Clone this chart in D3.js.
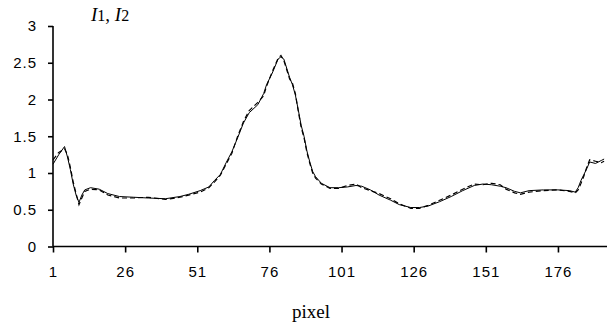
<!DOCTYPE html>
<html><head><meta charset="utf-8">
<script src="https://cdn.jsdelivr.net/npm/d3@7/dist/d3.min.js"></script>
<style>
html,body{margin:0;padding:0;background:#fff;}
svg{display:block;}
.tick text{font-family:"Liberation Sans",Arial,sans-serif;font-size:15px;letter-spacing:1px;fill:#000;}
</style></head>
<body><svg id="c" width="612" height="326"></svg>
<script>
const pixels = [1,3,5,6,7,8,9,10,11,12,14,17,20,24,29,34,40,45,48,52,55,57,59,61,63,65,67,69,72,74,75,77,79,80,81,83,84,85,86,87,88,89,90,91,92,94,97,100,103,106,108,111,114,118,121,125,128,131,135,139,143,147,150,153,156,158,161,163,166,171,176,180,182,183,184,185,186,187,189,191,192];
const I1 = [1.12,1.25,1.36,1.22,1.05,0.85,0.70,0.60,0.70,0.77,0.80,0.78,0.72,0.68,0.67,0.66,0.65,0.68,0.71,0.76,0.81,0.90,0.98,1.14,1.29,1.48,1.68,1.82,1.93,2.08,2.20,2.36,2.55,2.58,2.55,2.30,2.20,2.06,1.86,1.65,1.50,1.30,1.15,1.02,0.95,0.86,0.80,0.80,0.81,0.83,0.82,0.77,0.70,0.63,0.57,0.53,0.53,0.55,0.61,0.68,0.76,0.83,0.85,0.84,0.82,0.80,0.75,0.73,0.76,0.77,0.77,0.76,0.74,0.80,0.90,0.98,1.06,1.15,1.13,1.17,1.19];
const I2 = [1.18,1.28,1.33,1.25,1.08,0.88,0.72,0.57,0.66,0.75,0.78,0.77,0.70,0.66,0.66,0.67,0.64,0.67,0.70,0.74,0.80,0.88,0.97,1.12,1.27,1.50,1.70,1.85,1.96,2.05,2.18,2.38,2.56,2.60,2.53,2.28,2.22,2.08,1.84,1.62,1.48,1.28,1.13,1.00,0.93,0.85,0.79,0.79,0.83,0.85,0.80,0.76,0.72,0.65,0.58,0.52,0.52,0.56,0.63,0.70,0.78,0.85,0.84,0.86,0.84,0.78,0.73,0.71,0.74,0.76,0.77,0.75,0.73,0.77,0.86,0.96,1.08,1.18,1.16,1.14,1.16];
const xTicks = [1,26,51,76,101,126,151,176];
const yTicks = [0,0.5,1,1.5,2,2.5,3];

const svg = d3.select("#c");
const x = d3.scaleLinear().domain([1,193]).range([53,607]);
const y = d3.scaleLinear().domain([0,3]).range([246.5,26]);

const line = arr => d3.line().x((d,i)=>x(pixels[i])).y(d=>y(d))(arr);

svg.append("path").attr("d", line(I1)).attr("fill","none").attr("stroke","#000").attr("stroke-width",1);
svg.append("path").attr("d", line(I2)).attr("fill","none").attr("stroke","#000").attr("stroke-width",1.2).attr("stroke-dasharray","5,3");

const ya = svg.append("g").attr("transform","translate(53,0)")
  .call(d3.axisLeft(y).tickValues(yTicks).tickSize(5).tickPadding(11).tickFormat(d3.format("")));
const xa = svg.append("g").attr("transform","translate(0,246.5)")
  .call(d3.axisBottom(x).tickValues(xTicks).tickSize(6).tickPadding(14).tickSizeOuter(0).tickFormat(d3.format("")));
[ya,xa].forEach(g=>{
  g.select(".domain").attr("stroke","#000").attr("stroke-width",1.6);
  g.selectAll(".tick line").attr("stroke","#000").attr("stroke-width",1.6);
});
ya.select(".domain").attr("d","M0,26V246.5");
xa.select(".domain").attr("d","M53,0H607");

const t = svg.append("text").attr("x",91).attr("y",21)
  .style("font-family","'Liberation Serif','Times New Roman',serif").style("font-size","19px");
t.append("tspan").style("font-style","italic").text("I");
t.append("tspan").style("font-size","16px").text("1");
t.append("tspan").text(", ");
t.append("tspan").style("font-style","italic").text("I");
t.append("tspan").style("font-size","16px").text("2");

svg.append("text").attr("x",311).attr("y",318).attr("text-anchor","middle")
  .style("font-family","'Liberation Serif','Times New Roman',serif").style("font-size","19px").text("pixel");
</script></body></html>
